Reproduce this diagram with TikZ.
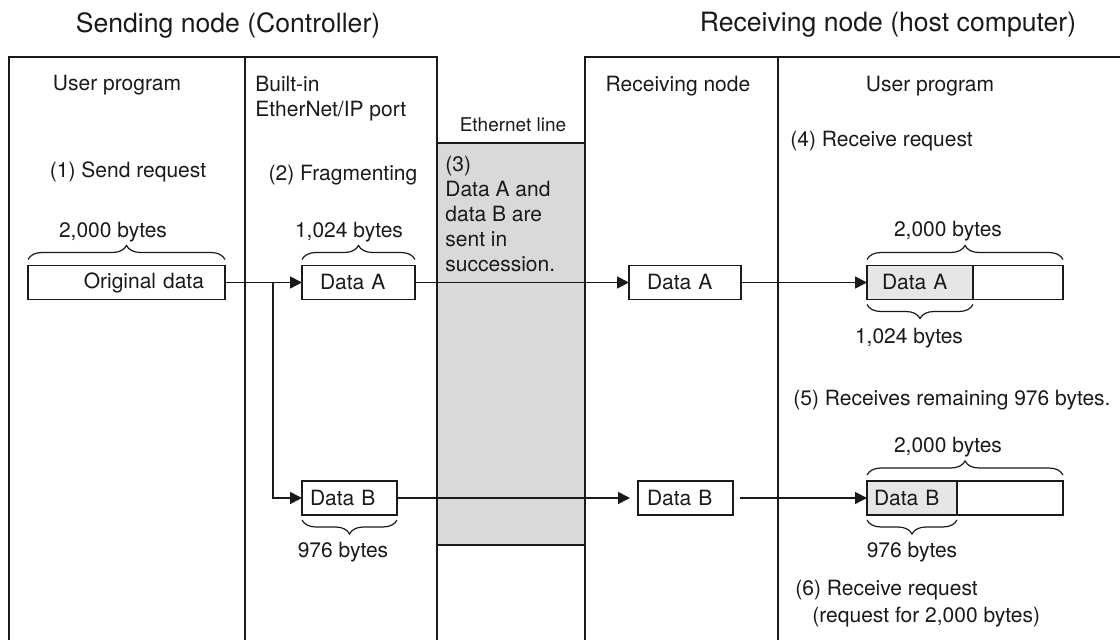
\documentclass[tikz,border=0pt]{standalone}
\usepackage{fontspec}
\setmainfont{TeX Gyre Heros}
\usetikzlibrary{arrows.meta,decorations.pathreplacing}
\definecolor{ethgray}{HTML}{D9D9D9}
\definecolor{bufgray}{HTML}{E6E6E6}
\definecolor{ink}{HTML}{1A1A1A}
\begin{document}
\begin{tikzpicture}[x=0.5pt,y=-0.5pt,
  frame/.style={draw=ink, line width=1pt},
  txt/.style={font=\fontsize{10.5}{12.5}\selectfont, inner sep=0pt, text=ink},
  hdr/.style={font=\fontsize{13.3}{16}\selectfont, inner sep=0pt, text=ink},
  dbox/.style={draw=ink, line width=0.9pt, minimum height=17pt, inner ysep=0pt, outer sep=0pt,
    font=\fontsize{10.5}{12.5}\selectfont, text=ink, anchor=west},
  conn/.style={draw=ink, line width=0.8pt, -{Triangle[length=6pt,width=6pt]}},
  brc/.style={draw=ink, line width=0.6pt, decorate, decoration={brace, amplitude=7pt}},
]
\useasboundingbox (0,0) rectangle (1120,640);

% Ethernet line column
\fill[ethgray] (437,143) rectangle (585,545);
\draw[frame] (437,143) -- (585,143);
\draw[frame] (437,545) -- (585,545);

% frames
\draw[frame] (9,640) -- (9,57) -- (437,57) -- (437,640);
\draw[frame] (245,57) -- (245,640);
\draw[frame] (585,640) -- (585,57) -- (1120,57);
\draw[frame] (778,57) -- (778,640);

% headers
\node[hdr] (hs) at (228,25) {Sending node (Controller)};
\node[hdr] (hr) at (888,25) {Receiving node (host computer)};

% column titles
\node[txt] (up1) at (117,85) {User program};
\node[txt, align=left, anchor=west] (bip) at (255,99) {Built-in\\EtherNet/IP port};
\node[txt, font=\fontsize{9.5}{11}\selectfont] (eth) at (513,125) {Ethernet line};
\node[txt] (rn) at (678,86) {Receiving node};
\node[txt] (up2) at (930,86) {User program};

% step texts
\node[txt] (s1) at (128,172) {(1) Send request};
\node[txt] (s2) at (343,175) {(2) Fragmenting};
\node[txt, align=left, anchor=north west] (s3) at (445,156)
  {(3)\\Data A and\\data B are\\sent in\\succession.};
\node[txt, anchor=west] (s4) at (790,141) {(4) Receive request};
\node[txt, anchor=west] (s5) at (793,400) {(5) Receives remaining 976 bytes.};
\node[txt, anchor=west] (s6) at (795,590) {(6) Receive request};
\node[txt, anchor=west] (s6b) at (812,617) {(request for 2,000 bytes)};

% data boxes
\node[dbox, inner xsep=10.5pt, text width=77.5pt, align=right] (orig) at (28,282.5) {Original data};
\node[dbox, inner xsep=9pt, text width=38.5pt, align=left] (sendA) at (302,282.5) {Data A};
\node[dbox, inner xsep=4pt, text width=39.5pt, align=left] (sendB) at (302,498) {Data B};
\node[dbox, inner xsep=9pt, text width=38pt, align=left] (recvA) at (629,282.5) {Data A};
\node[dbox, inner xsep=4.5pt, text width=38.5pt, align=left] (recvB) at (638,498) {Data B};
\node[dbox, fill=bufgray, inner xsep=7.5pt, text width=38pt, align=left] (bufAl) at (867,282.5) {Data A};
\node[dbox, inner xsep=0pt, minimum width=45pt] (bufAr) at (bufAl.east) {};
\node[dbox, fill=bufgray, inner xsep=3.5pt, text width=38pt, align=left] (bufBl) at (867,498) {Data B};
\node[dbox, inner xsep=0pt, minimum width=53pt] (bufBr) at (bufBl.east) {};

% connectors
\coordinate (split) at (273,282.5);
\draw[conn] (orig.east) -- (sendA.west);
\draw[conn] (split) |- (sendB.west);
\draw[conn] (sendA.east) -- (recvA.west);
\draw[conn] (recvA.east) -- (bufAl.west);
\draw[conn, shorten >=4pt] (sendB.east) -- (recvB.west);
\draw[conn, shorten <=3.5pt] (recvB.east) -- (bufBl.west);

% braces and sizes
\draw[brc] ([yshift=3pt]orig.north west) -- ([yshift=3pt]orig.north east);
\node[txt] (l1) at (113,232) {2,000 bytes};

\draw[brc] ([yshift=3pt]sendA.north west) -- ([yshift=3pt]sendA.north east);
\node[txt] (l2) at (349,232) {1,024 bytes};

\draw[brc] ([yshift=-2.5pt]sendB.south east) -- ([yshift=-2.5pt]sendB.south west);
\node[txt] (l3) at (343,552) {976 bytes};

\draw[brc] ([yshift=3pt]bufAl.north west) -- ([yshift=3pt]bufAr.north east);
\node[txt] (l4) at (948,231) {2,000 bytes};

\draw[brc] ([yshift=-2.5pt]bufAl.south east) -- ([yshift=-2.5pt]bufAl.south west);
\node[txt] (l5) at (909,338) {1,024 bytes};

\draw[brc] ([yshift=3pt]bufBl.north west) -- ([yshift=3pt]bufBr.north east);
\node[txt] (l6) at (948,447) {2,000 bytes};

\draw[brc] ([yshift=-2.5pt]bufBl.south east) -- ([yshift=-2.5pt]bufBl.south west);
\node[txt] (l7) at (912,552) {976 bytes};
\end{tikzpicture}
\end{document}
